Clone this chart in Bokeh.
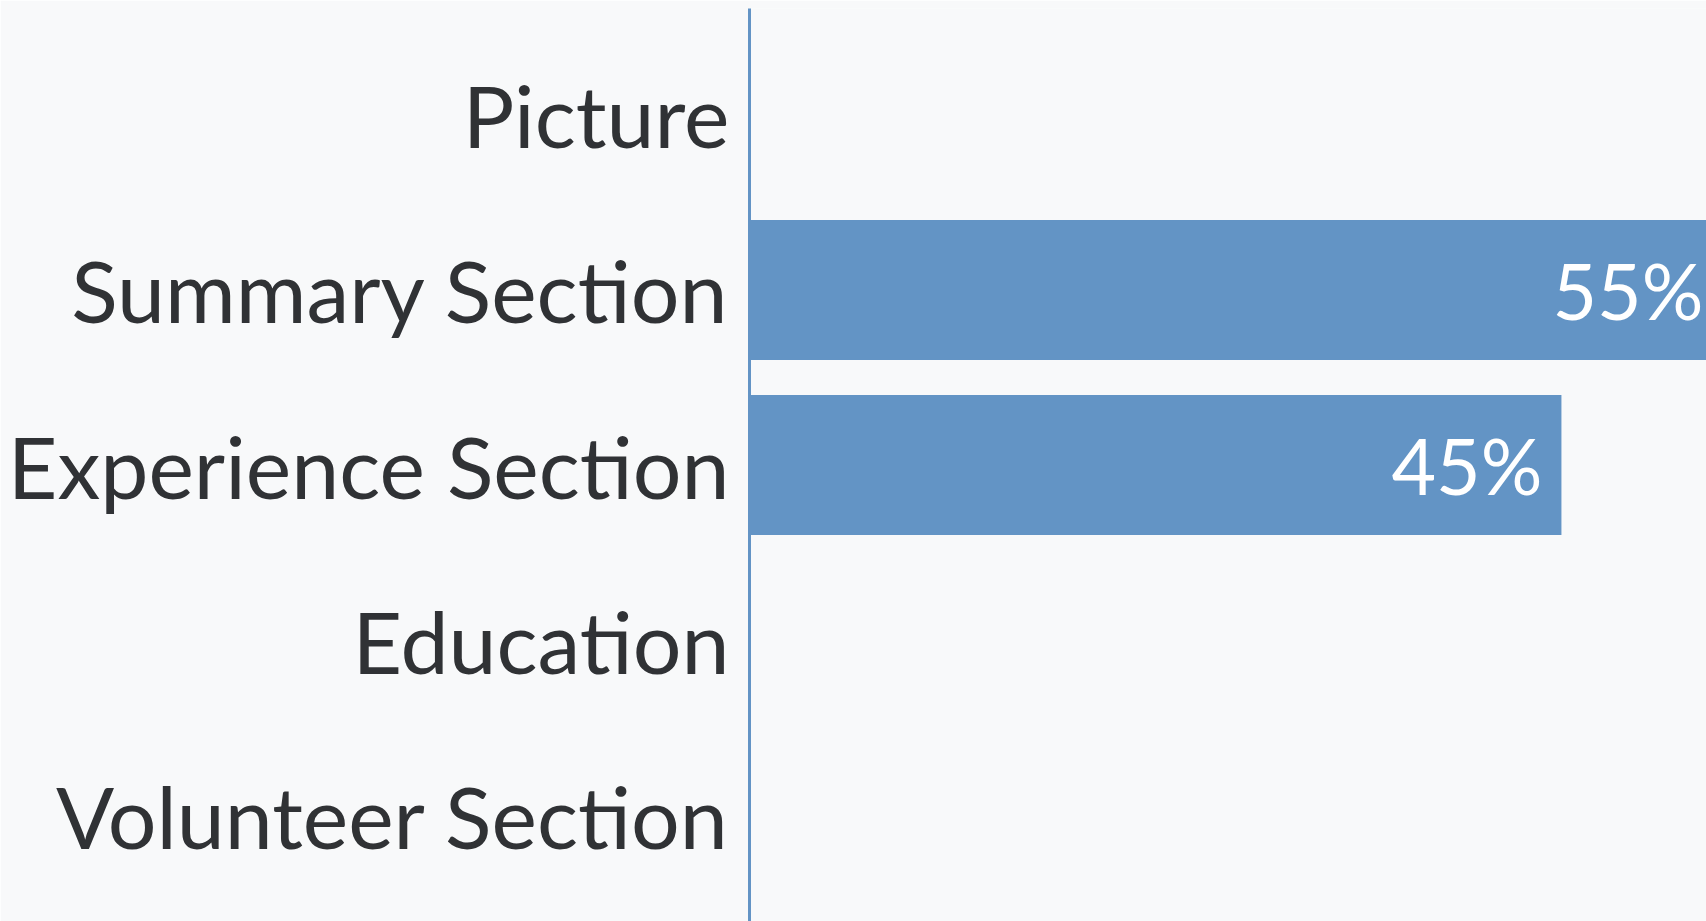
from bokeh.plotting import figure
from bokeh.models import ColumnDataSource, FactorRange, Range1d
from bokeh.core.properties import value
from bokeh.embed import file_html
from bokeh.resources import INLINE

categories = ["Picture", "Summary Section", "Experience Section", "Education", "Volunteer Section"]
percent = [0, 55, 45, 0, 0]

X_END = 53.04
BAR = "#6394c5"
BG = "#f8f9fa"
FONT = "Lato"

p = figure(
    width=1706, height=921,
    y_range=FactorRange(factors=categories[::-1], range_padding=0.0434),
    x_range=Range1d(0, X_END),
    output_backend="svg", toolbar_location=None,
    min_border_left=749, min_border_right=0, min_border_top=8, min_border_bottom=0,
)
p.background_fill_color = BG
p.border_fill_color = BG
p.outline_line_color = None
p.grid.visible = False
p.xaxis.visible = False

src = ColumnDataSource(dict(cat=categories, val=percent))
p.hbar(y="cat", left=0, right="val", height=0.8, source=src,
       fill_color=BAR, line_color=None)

lab_cat, lab_x, lab_txt, lab_off = [], [], [], []
for c, v in zip(categories, percent):
    if v > 0:
        lab_cat.append(c)
        lab_x.append(min(v, X_END))
        lab_txt.append(f"{v}%")
        lab_off.append(-19 if v <= X_END else -3)
lsrc = ColumnDataSource(dict(cat=lab_cat, x=lab_x, t=lab_txt, off=lab_off))
p.text(x="x", y="cat", text="t", x_offset="off", source=lsrc,
       text_align="right", text_baseline="middle", text_color="white",
       text_font=value(FONT), text_font_size="77px")

ax = p.yaxis[0]
ax.axis_line_color = BAR
ax.axis_line_width = 3
ax.major_tick_line_color = None
ax.minor_tick_line_color = None
ax.major_tick_out = 0
ax.major_tick_in = 0
ax.major_label_standoff = 20
ax.major_label_text_font = FONT
ax.major_label_text_font_size = "86px"
ax.major_label_text_color = "#303235"

open("out.html", "w").write(file_html(p, INLINE))
